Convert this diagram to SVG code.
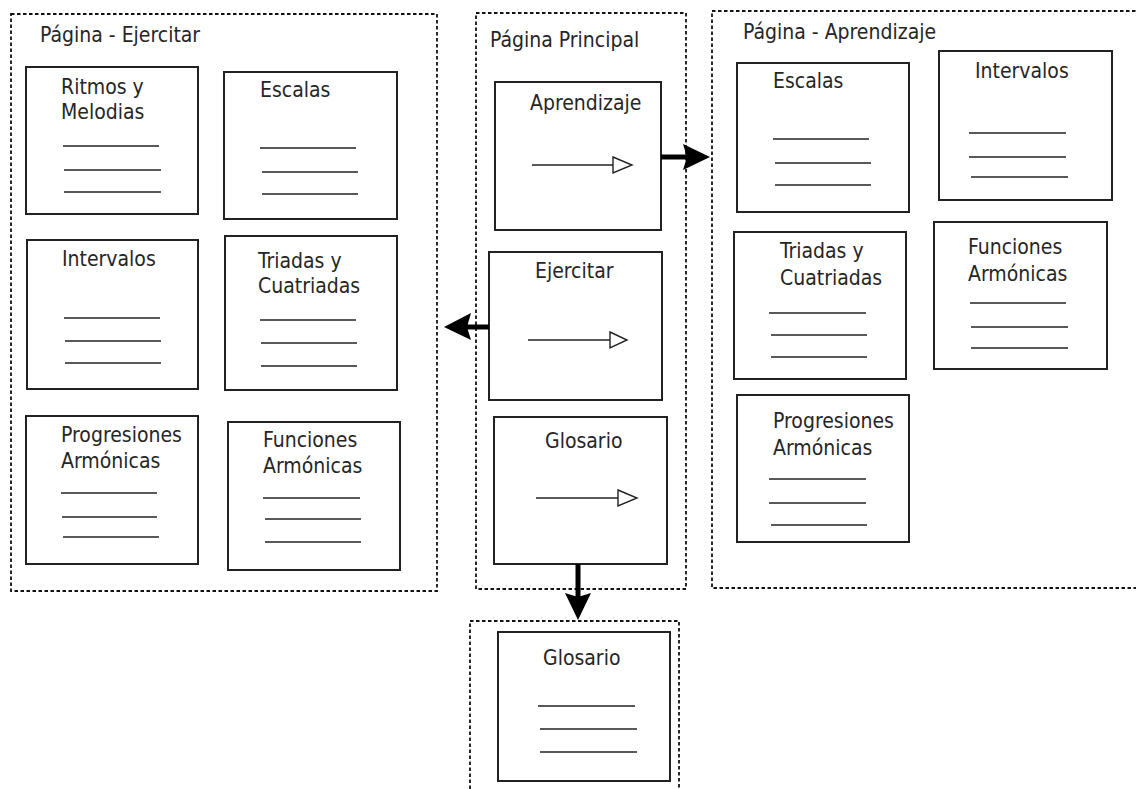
<svg xmlns="http://www.w3.org/2000/svg" width="1136" height="789" viewBox="0 0 1136 789">
  <style>
    .page { fill: none; stroke: #111; stroke-width: 1.8; stroke-dasharray: 3.5 2.5; }
    .card { fill: #fff; stroke: #222; stroke-width: 2; }
    .rule { stroke: #222; stroke-width: 1.7; }
    .lbl { font-family: "DejaVu Sans Condensed", "DejaVu Sans", sans-serif; font-stretch: condensed; font-size: 21px; fill: #262626; }
    .thin { stroke: #222; stroke-width: 1.6; fill: none; }
    .hollow { fill: #fff; stroke: #222; stroke-width: 1.4; }
    .thick { stroke: #000; stroke-width: 5; fill: none; }
    .head { fill: #000; stroke: none; }
  </style>

  <rect width="1136" height="789" fill="#fff"/>

  <!-- Página - Ejercitar -->
  <g id="page-ejercitar">
    <rect class="page" x="11" y="14" width="426" height="577"/>
    <text class="lbl" x="40" y="42">Página - Ejercitar</text>

    <g id="ej-ritmos">
      <rect class="card" x="26" y="67" width="172" height="147"/>
      <text class="lbl" x="61" y="94">Ritmos y</text>
      <text class="lbl" x="61" y="119">Melodias</text>
      <line class="rule" x1="63" y1="146" x2="159" y2="146"/>
      <line class="rule" x1="64" y1="170" x2="161" y2="170"/>
      <line class="rule" x1="64" y1="192" x2="161" y2="192"/>
    </g>
    <g id="ej-escalas">
      <rect class="card" x="224" y="72" width="173" height="147"/>
      <text class="lbl" x="260" y="97">Escalas</text>
      <line class="rule" x1="260" y1="148" x2="356" y2="148"/>
      <line class="rule" x1="262" y1="172" x2="358" y2="172"/>
      <line class="rule" x1="262" y1="194" x2="358" y2="194"/>
    </g>
    <g id="ej-intervalos">
      <rect class="card" x="27" y="240" width="171" height="149"/>
      <text class="lbl" x="62" y="266">Intervalos</text>
      <line class="rule" x1="64" y1="318" x2="160" y2="318"/>
      <line class="rule" x1="65" y1="341" x2="161" y2="341"/>
      <line class="rule" x1="65" y1="363" x2="161" y2="363"/>
    </g>
    <g id="ej-triadas">
      <rect class="card" x="225" y="236" width="172" height="154"/>
      <text class="lbl" x="258" y="268">Triadas y</text>
      <text class="lbl" x="258" y="293">Cuatriadas</text>
      <line class="rule" x1="260" y1="320" x2="356" y2="320"/>
      <line class="rule" x1="261" y1="343" x2="357" y2="343"/>
      <line class="rule" x1="261" y1="366" x2="357" y2="366"/>
    </g>
    <g id="ej-progresiones">
      <rect class="card" x="26" y="416" width="172" height="148"/>
      <text class="lbl" x="61" y="442">Progresiones</text>
      <text class="lbl" x="61" y="468">Armónicas</text>
      <line class="rule" x1="61" y1="493" x2="157" y2="493"/>
      <line class="rule" x1="62" y1="517" x2="157" y2="517"/>
      <line class="rule" x1="63" y1="537" x2="159" y2="537"/>
    </g>
    <g id="ej-funciones">
      <rect class="card" x="228" y="422" width="172" height="148"/>
      <text class="lbl" x="263" y="447">Funciones</text>
      <text class="lbl" x="263" y="473">Armónicas</text>
      <line class="rule" x1="263" y1="498" x2="360" y2="498"/>
      <line class="rule" x1="265" y1="519" x2="361" y2="519"/>
      <line class="rule" x1="265" y1="542" x2="361" y2="542"/>
    </g>
  </g>

  <!-- Página Principal -->
  <g id="page-principal">
    <rect class="page" x="476" y="13" width="210" height="576"/>
    <text class="lbl" x="490" y="47">Página Principal</text>

    <g id="pp-aprendizaje">
      <rect class="card" x="495" y="82" width="166" height="148"/>
      <text class="lbl" x="530" y="110">Aprendizaje</text>
      <line class="thin" x1="532" y1="165" x2="613" y2="165"/>
      <polygon class="hollow" points="613,157 632,165 613,173"/>
    </g>
    <g id="pp-ejercitar">
      <rect class="card" x="489" y="252" width="173" height="148"/>
      <text class="lbl" x="535" y="278">Ejercitar</text>
      <line class="thin" x1="528" y1="340" x2="610" y2="340"/>
      <polygon class="hollow" points="610,332 627,340 610,348"/>
    </g>
    <g id="pp-glosario">
      <rect class="card" x="494" y="417" width="173" height="147"/>
      <text class="lbl" x="545" y="448">Glosario</text>
      <line class="thin" x1="536" y1="498" x2="618" y2="498"/>
      <polygon class="hollow" points="618,490 637,498 618,506"/>
    </g>
  </g>

  <!-- Página - Aprendizaje -->
  <g id="page-aprendizaje">
    <rect class="page" x="712" y="11" width="440" height="577"/>
    <text class="lbl" x="743" y="39">Página - Aprendizaje</text>

    <g id="ap-escalas">
      <rect class="card" x="737" y="63" width="172" height="149"/>
      <text class="lbl" x="773" y="88">Escalas</text>
      <line class="rule" x1="773" y1="139" x2="869" y2="139"/>
      <line class="rule" x1="775" y1="163" x2="871" y2="163"/>
      <line class="rule" x1="775" y1="185" x2="871" y2="185"/>
    </g>
    <g id="ap-intervalos">
      <rect class="card" x="939" y="51" width="173" height="149"/>
      <text class="lbl" x="975" y="78">Intervalos</text>
      <line class="rule" x1="969" y1="133" x2="1066" y2="133"/>
      <line class="rule" x1="969" y1="157" x2="1066" y2="157"/>
      <line class="rule" x1="971" y1="177" x2="1068" y2="177"/>
    </g>
    <g id="ap-triadas">
      <rect class="card" x="734" y="232" width="172" height="147"/>
      <text class="lbl" x="780" y="258">Triadas y</text>
      <text class="lbl" x="780" y="285">Cuatriadas</text>
      <line class="rule" x1="769" y1="313" x2="866" y2="313"/>
      <line class="rule" x1="771" y1="335" x2="867" y2="335"/>
      <line class="rule" x1="771" y1="357" x2="867" y2="357"/>
    </g>
    <g id="ap-funciones">
      <rect class="card" x="934" y="222" width="173" height="147"/>
      <text class="lbl" x="968" y="254">Funciones</text>
      <text class="lbl" x="968" y="281">Armónicas</text>
      <line class="rule" x1="970" y1="303" x2="1066" y2="303"/>
      <line class="rule" x1="971" y1="327" x2="1068" y2="327"/>
      <line class="rule" x1="971" y1="348" x2="1068" y2="348"/>
    </g>
    <g id="ap-progresiones">
      <rect class="card" x="737" y="395" width="172" height="147"/>
      <text class="lbl" x="773" y="428">Progresiones</text>
      <text class="lbl" x="773" y="455">Armónicas</text>
      <line class="rule" x1="769" y1="479" x2="866" y2="479"/>
      <line class="rule" x1="769" y1="503" x2="866" y2="503"/>
      <line class="rule" x1="771" y1="525" x2="867" y2="525"/>
    </g>
  </g>

  <!-- Glosario page -->
  <g id="page-glosario">
    <rect class="page" x="470" y="621" width="209" height="190"/>
    <g id="gl-glosario">
      <rect class="card" x="498" y="632" width="172" height="149"/>
      <text class="lbl" x="543" y="665">Glosario</text>
      <line class="rule" x1="538" y1="706" x2="635" y2="706"/>
      <line class="rule" x1="540" y1="729" x2="637" y2="729"/>
      <line class="rule" x1="540" y1="752" x2="637" y2="752"/>
    </g>
  </g>

  <!-- Navigation between pages -->
  <g id="connectors">
    <line class="thick" x1="661" y1="157" x2="688" y2="157"/>
    <polygon class="head" points="710,157 683,144 687,157 683,170"/>

    <line class="thick" x1="489" y1="327" x2="466" y2="327"/>
    <polygon class="head" points="444,327 471,313 467,327 471,340"/>

    <line class="thick" x1="578" y1="564" x2="578" y2="598"/>
    <polygon class="head" points="578,620 565,593 578,597 591,593"/>
  </g>
</svg>
